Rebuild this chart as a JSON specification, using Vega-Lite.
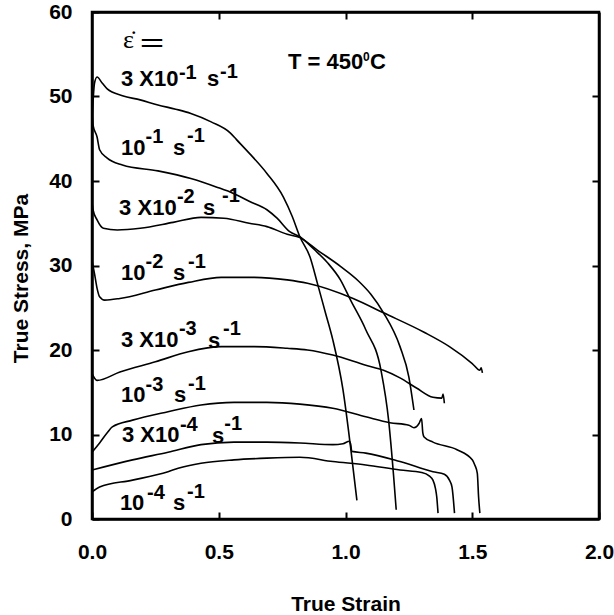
{
  "$schema": "https://vega.github.io/schema/vega-lite/v6.json",
  "width": 507,
  "height": 507,
  "autosize": {"type": "none"},
  "padding": {"left": 92, "top": 12, "right": 15, "bottom": 96},
  "background": "white",
  "config": {"view": {"stroke": "black", "strokeWidth": 2.5}, "font": "Liberation Sans"},
  "datasets": {
    "curves": [
      {"rate": "3x10^-1", "strain": 0, "stress": 47},
      {"rate": "3x10^-1", "strain": 0.01, "stress": 51.6},
      {"rate": "3x10^-1", "strain": 0.02, "stress": 52.3},
      {"rate": "3x10^-1", "strain": 0.04, "stress": 51.6},
      {"rate": "3x10^-1", "strain": 0.06, "stress": 50.9},
      {"rate": "3x10^-1", "strain": 0.12, "stress": 50.1},
      {"rate": "3x10^-1", "strain": 0.19, "stress": 49.6},
      {"rate": "3x10^-1", "strain": 0.26, "stress": 49.0},
      {"rate": "3x10^-1", "strain": 0.33, "stress": 48.5},
      {"rate": "3x10^-1", "strain": 0.39, "stress": 48.0},
      {"rate": "3x10^-1", "strain": 0.47, "stress": 47.0},
      {"rate": "3x10^-1", "strain": 0.545, "stress": 45.7},
      {"rate": "3x10^-1", "strain": 0.57, "stress": 44.9},
      {"rate": "3x10^-1", "strain": 0.62, "stress": 43.3},
      {"rate": "3x10^-1", "strain": 0.69, "stress": 40.9},
      {"rate": "3x10^-1", "strain": 0.755, "stress": 38.1},
      {"rate": "3x10^-1", "strain": 0.79, "stress": 35.8},
      {"rate": "3x10^-1", "strain": 0.82, "stress": 33.4},
      {"rate": "3x10^-1", "strain": 0.86, "stress": 31.0},
      {"rate": "3x10^-1", "strain": 0.89, "stress": 27.8},
      {"rate": "3x10^-1", "strain": 0.92, "stress": 24.5},
      {"rate": "3x10^-1", "strain": 0.95, "stress": 21.2},
      {"rate": "3x10^-1", "strain": 0.99, "stress": 15.3},
      {"rate": "3x10^-1", "strain": 1.02, "stress": 8.5},
      {"rate": "3x10^-1", "strain": 1.045, "stress": 2.2},

      {"rate": "1x10^-1", "strain": 0, "stress": 48.5},
      {"rate": "1x10^-1", "strain": 0.004, "stress": 46.6},
      {"rate": "1x10^-1", "strain": 0.02, "stress": 45.2},
      {"rate": "1x10^-1", "strain": 0.03, "stress": 43.7},
      {"rate": "1x10^-1", "strain": 0.06, "stress": 42.7},
      {"rate": "1x10^-1", "strain": 0.12, "stress": 41.9},
      {"rate": "1x10^-1", "strain": 0.26, "stress": 41.2},
      {"rate": "1x10^-1", "strain": 0.39, "stress": 40.3},
      {"rate": "1x10^-1", "strain": 0.49, "stress": 39.3},
      {"rate": "1x10^-1", "strain": 0.56, "stress": 38.5},
      {"rate": "1x10^-1", "strain": 0.62, "stress": 37.6},
      {"rate": "1x10^-1", "strain": 0.69, "stress": 36.6},
      {"rate": "1x10^-1", "strain": 0.73, "stress": 35.6},
      {"rate": "1x10^-1", "strain": 0.78, "stress": 34.0},
      {"rate": "1x10^-1", "strain": 0.82, "stress": 33.4},
      {"rate": "1x10^-1", "strain": 0.88, "stress": 31.8},
      {"rate": "1x10^-1", "strain": 0.93, "stress": 30.3},
      {"rate": "1x10^-1", "strain": 0.98, "stress": 28.3},
      {"rate": "1x10^-1", "strain": 1.02, "stress": 25.9},
      {"rate": "1x10^-1", "strain": 1.08, "stress": 22.4},
      {"rate": "1x10^-1", "strain": 1.14, "stress": 17.6},
      {"rate": "1x10^-1", "strain": 1.17, "stress": 11.7},
      {"rate": "1x10^-1", "strain": 1.19, "stress": 5.0},
      {"rate": "1x10^-1", "strain": 1.2, "stress": 1.1},

      {"rate": "3x10^-2", "strain": 0, "stress": 37.5},
      {"rate": "3x10^-2", "strain": 0.004, "stress": 36.6},
      {"rate": "3x10^-2", "strain": 0.02, "stress": 35.4},
      {"rate": "3x10^-2", "strain": 0.045, "stress": 34.4},
      {"rate": "3x10^-2", "strain": 0.1, "stress": 34.2},
      {"rate": "3x10^-2", "strain": 0.19, "stress": 34.4},
      {"rate": "3x10^-2", "strain": 0.32, "stress": 35.1},
      {"rate": "3x10^-2", "strain": 0.43, "stress": 35.7},
      {"rate": "3x10^-2", "strain": 0.52, "stress": 35.6},
      {"rate": "3x10^-2", "strain": 0.62, "stress": 35.0},
      {"rate": "3x10^-2", "strain": 0.69, "stress": 34.6},
      {"rate": "3x10^-2", "strain": 0.77, "stress": 33.7},
      {"rate": "3x10^-2", "strain": 0.82, "stress": 33.3},
      {"rate": "3x10^-2", "strain": 0.89, "stress": 31.8},
      {"rate": "3x10^-2", "strain": 0.98, "stress": 29.9},
      {"rate": "3x10^-2", "strain": 1.05, "stress": 28.2},
      {"rate": "3x10^-2", "strain": 1.1, "stress": 26.6},
      {"rate": "3x10^-2", "strain": 1.15, "stress": 24.4},
      {"rate": "3x10^-2", "strain": 1.215, "stress": 20.4},
      {"rate": "3x10^-2", "strain": 1.25, "stress": 16.8},
      {"rate": "3x10^-2", "strain": 1.27, "stress": 12.9},

      {"rate": "1x10^-2", "strain": 0, "stress": 30.5},
      {"rate": "1x10^-2", "strain": 0.01, "stress": 29.0},
      {"rate": "1x10^-2", "strain": 0.02, "stress": 27.3},
      {"rate": "1x10^-2", "strain": 0.03, "stress": 26.3},
      {"rate": "1x10^-2", "strain": 0.05, "stress": 25.9},
      {"rate": "1x10^-2", "strain": 0.11, "stress": 26.1},
      {"rate": "1x10^-2", "strain": 0.25, "stress": 27.1},
      {"rate": "1x10^-2", "strain": 0.38, "stress": 28.0},
      {"rate": "1x10^-2", "strain": 0.51, "stress": 28.6},
      {"rate": "1x10^-2", "strain": 0.64, "stress": 28.6},
      {"rate": "1x10^-2", "strain": 0.77, "stress": 28.3},
      {"rate": "1x10^-2", "strain": 0.85, "stress": 27.9},
      {"rate": "1x10^-2", "strain": 1.03, "stress": 26.1},
      {"rate": "1x10^-2", "strain": 1.15, "stress": 24.4},
      {"rate": "1x10^-2", "strain": 1.31, "stress": 22.1},
      {"rate": "1x10^-2", "strain": 1.41, "stress": 20.4},
      {"rate": "1x10^-2", "strain": 1.5, "stress": 18.4},
      {"rate": "1x10^-2", "strain": 1.53, "stress": 17.6},
      {"rate": "1x10^-2", "strain": 1.535, "stress": 17.9},
      {"rate": "1x10^-2", "strain": 1.54, "stress": 17.3},

      {"rate": "3x10^-3", "strain": 0, "stress": 17.2},
      {"rate": "3x10^-3", "strain": 0.02, "stress": 16.4},
      {"rate": "3x10^-3", "strain": 0.11, "stress": 17.4},
      {"rate": "3x10^-3", "strain": 0.25, "stress": 18.6},
      {"rate": "3x10^-3", "strain": 0.38, "stress": 19.8},
      {"rate": "3x10^-3", "strain": 0.51, "stress": 20.4},
      {"rate": "3x10^-3", "strain": 0.64, "stress": 20.4},
      {"rate": "3x10^-3", "strain": 0.77, "stress": 20.2},
      {"rate": "3x10^-3", "strain": 0.85, "stress": 20.0},
      {"rate": "3x10^-3", "strain": 0.95, "stress": 19.4},
      {"rate": "3x10^-3", "strain": 1.08, "stress": 18.2},
      {"rate": "3x10^-3", "strain": 1.15, "stress": 17.6},
      {"rate": "3x10^-3", "strain": 1.215, "stress": 16.7},
      {"rate": "3x10^-3", "strain": 1.28, "stress": 15.5},
      {"rate": "3x10^-3", "strain": 1.345, "stress": 14.4},
      {"rate": "3x10^-3", "strain": 1.38, "stress": 14.3},
      {"rate": "3x10^-3", "strain": 1.385, "stress": 14.8},
      {"rate": "3x10^-3", "strain": 1.39, "stress": 13.7},

      {"rate": "1x10^-3", "strain": 0, "stress": 7.9},
      {"rate": "1x10^-3", "strain": 0.03, "stress": 9.0},
      {"rate": "1x10^-3", "strain": 0.06, "stress": 10.2},
      {"rate": "1x10^-3", "strain": 0.08, "stress": 10.9},
      {"rate": "1x10^-3", "strain": 0.16, "stress": 11.7},
      {"rate": "1x10^-3", "strain": 0.3, "stress": 12.7},
      {"rate": "1x10^-3", "strain": 0.43, "stress": 13.5},
      {"rate": "1x10^-3", "strain": 0.56, "stress": 13.8},
      {"rate": "1x10^-3", "strain": 0.69, "stress": 13.8},
      {"rate": "1x10^-3", "strain": 0.82, "stress": 13.6},
      {"rate": "1x10^-3", "strain": 0.95, "stress": 13.1},
      {"rate": "1x10^-3", "strain": 1.08, "stress": 12.1},
      {"rate": "1x10^-3", "strain": 1.175, "stress": 11.4},
      {"rate": "1x10^-3", "strain": 1.25, "stress": 11.1},
      {"rate": "1x10^-3", "strain": 1.27, "stress": 10.8},
      {"rate": "1x10^-3", "strain": 1.29, "stress": 11.3},
      {"rate": "1x10^-3", "strain": 1.3, "stress": 11.9},
      {"rate": "1x10^-3", "strain": 1.305, "stress": 10.2},
      {"rate": "1x10^-3", "strain": 1.31, "stress": 9.7},
      {"rate": "1x10^-3", "strain": 1.345, "stress": 9.1},
      {"rate": "1x10^-3", "strain": 1.44, "stress": 8.2},
      {"rate": "1x10^-3", "strain": 1.5, "stress": 7.0},
      {"rate": "1x10^-3", "strain": 1.51, "stress": 6.4},
      {"rate": "1x10^-3", "strain": 1.52, "stress": 5.4},
      {"rate": "1x10^-3", "strain": 1.525, "stress": 2.6},
      {"rate": "1x10^-3", "strain": 1.53, "stress": 0.7},

      {"rate": "3x10^-4", "strain": 0, "stress": 5.8},
      {"rate": "3x10^-4", "strain": 0.16, "stress": 7.0},
      {"rate": "3x10^-4", "strain": 0.3, "stress": 7.9},
      {"rate": "3x10^-4", "strain": 0.43, "stress": 8.8},
      {"rate": "3x10^-4", "strain": 0.56, "stress": 9.1},
      {"rate": "3x10^-4", "strain": 0.69, "stress": 9.1},
      {"rate": "3x10^-4", "strain": 0.82, "stress": 9.0},
      {"rate": "3x10^-4", "strain": 0.95, "stress": 8.8},
      {"rate": "3x10^-4", "strain": 0.99, "stress": 8.9},
      {"rate": "3x10^-4", "strain": 1.015, "stress": 9.2},
      {"rate": "3x10^-4", "strain": 1.02, "stress": 8.9},
      {"rate": "3x10^-4", "strain": 1.025, "stress": 8.0},
      {"rate": "3x10^-4", "strain": 1.08, "stress": 7.8},
      {"rate": "3x10^-4", "strain": 1.215, "stress": 6.8},
      {"rate": "3x10^-4", "strain": 1.345, "stress": 5.6},
      {"rate": "3x10^-4", "strain": 1.39, "stress": 5.3},
      {"rate": "3x10^-4", "strain": 1.41, "stress": 4.6},
      {"rate": "3x10^-4", "strain": 1.42, "stress": 3.8},
      {"rate": "3x10^-4", "strain": 1.43, "stress": 0.7},

      {"rate": "1x10^-4", "strain": 0, "stress": 3.2},
      {"rate": "1x10^-4", "strain": 0.03, "stress": 3.8},
      {"rate": "1x10^-4", "strain": 0.16, "stress": 4.6},
      {"rate": "1x10^-4", "strain": 0.3, "stress": 5.6},
      {"rate": "1x10^-4", "strain": 0.34, "stress": 6.0},
      {"rate": "1x10^-4", "strain": 0.43, "stress": 6.6},
      {"rate": "1x10^-4", "strain": 0.56, "stress": 7.0},
      {"rate": "1x10^-4", "strain": 0.69, "stress": 7.2},
      {"rate": "1x10^-4", "strain": 0.82, "stress": 7.3},
      {"rate": "1x10^-4", "strain": 0.95, "stress": 6.8},
      {"rate": "1x10^-4", "strain": 1.08, "stress": 6.4},
      {"rate": "1x10^-4", "strain": 1.215, "stress": 5.8},
      {"rate": "1x10^-4", "strain": 1.3, "stress": 5.5},
      {"rate": "1x10^-4", "strain": 1.33, "stress": 5.1},
      {"rate": "1x10^-4", "strain": 1.345, "stress": 4.6},
      {"rate": "1x10^-4", "strain": 1.355, "stress": 3.6},
      {"rate": "1x10^-4", "strain": 1.36, "stress": 2.6},
      {"rate": "1x10^-4", "strain": 1.365, "stress": 0.7}
    ],
    "labels": [
      {"x": 0.114, "y": 51.24, "t": "3 X10"},
      {"x": 0.454, "y": 51.24, "t": "s"},
      {"x": 0.114, "y": 43.08, "t": "10"},
      {"x": 0.32, "y": 43.08, "t": "s"},
      {"x": 0.107, "y": 35.98, "t": "3 X10"},
      {"x": 0.438, "y": 35.98, "t": "s"},
      {"x": 0.114, "y": 28.28, "t": "10"},
      {"x": 0.32, "y": 28.28, "t": "s"},
      {"x": 0.114, "y": 20.36, "t": "3 X10"},
      {"x": 0.458, "y": 20.24, "t": "s"},
      {"x": 0.114, "y": 13.85, "t": "10"},
      {"x": 0.323, "y": 13.85, "t": "s"},
      {"x": 0.118, "y": 9.11, "t": "3 X10"},
      {"x": 0.473, "y": 8.99, "t": "s"},
      {"x": 0.11, "y": 1.07, "t": "10"},
      {"x": 0.32, "y": 1.07, "t": "s"},
      {"x": 0.773, "y": 53.25, "t": "T = 450"},
      {"x": 1.097, "y": 53.25, "t": "C"}
    ],
    "sups": [
      {"x": 0.343, "y": 52.07, "t": "-1"},
      {"x": 0.505, "y": 52.19, "t": "-1"},
      {"x": 0.211, "y": 44.5, "t": "-1"},
      {"x": 0.375, "y": 44.62, "t": "-1"},
      {"x": 0.335, "y": 37.4, "t": "-2"},
      {"x": 0.513, "y": 37.51, "t": "-1"},
      {"x": 0.211, "y": 29.7, "t": "-2"},
      {"x": 0.379, "y": 29.7, "t": "-1"},
      {"x": 0.343, "y": 21.78, "t": "-3"},
      {"x": 0.517, "y": 21.78, "t": "-1"},
      {"x": 0.211, "y": 15.15, "t": "-3"},
      {"x": 0.379, "y": 15.27, "t": "-1"},
      {"x": 0.347, "y": 10.41, "t": "-4"},
      {"x": 0.522, "y": 10.53, "t": "-1"},
      {"x": 0.217, "y": 2.37, "t": "-4"},
      {"x": 0.375, "y": 2.49, "t": "-1"}
    ],
    "smallsup": [
      {"x": 1.069, "y": 54.2, "t": "0"}
    ],
    "symbols": [
      {"x": 0.122, "y": 55.74, "t": "ε̇"}
    ],
    "equals": [
      {"x": 0.181, "y": 55.08, "t": "＝"}
    ]
  },
  "layer": [
    {
      "data": {"name": "curves"},
      "mark": {"type": "line", "color": "black", "strokeWidth": 1.6, "interpolate": "monotone", "clip": true},
      "encoding": {
        "x": {
          "field": "strain", "type": "quantitative",
          "scale": {"domain": [0, 2], "nice": false, "zero": false},
          "axis": {
            "orient": "bottom", "values": [0, 0.5, 1, 1.5, 2], "format": ".1f",
            "grid": false, "tickSize": -7, "tickWidth": 2, "tickColor": "black",
            "domain": true, "domainColor": "black", "domainWidth": 2.5,
            "labelFont": "Liberation Sans", "labelFontWeight": "bold", "labelFontSize": 21,
            "labelColor": "black", "labelBaseline": "alphabetic", "labelPadding": 46,
            "labelFlush": false, "labelOverlap": false,
            "title": "True Strain", "titleFont": "Liberation Sans", "titleFontWeight": "bold",
            "titleFontSize": 21, "titleColor": "black", "titleX": 253.5, "titleY": 91,
            "titleBaseline": "alphabetic", "titleAlign": "center"
          }
        },
        "y": {
          "field": "stress", "type": "quantitative",
          "scale": {"domain": [0, 60], "nice": false, "zero": false},
          "axis": {
            "orient": "left", "values": [0, 10, 20, 30, 40, 50, 60],
            "grid": false, "tickSize": -7, "tickWidth": 2, "tickColor": "black",
            "domain": true, "domainColor": "black", "domainWidth": 2.5,
            "labelFont": "Liberation Sans", "labelFontWeight": "bold", "labelFontSize": 21,
            "labelColor": "black", "labelPadding": 27, "labelFlush": false, "labelOverlap": false,
            "title": "True Stress, MPa", "titleFont": "Liberation Sans", "titleFontWeight": "bold",
            "titleFontSize": 21, "titleColor": "black", "titleX": -65, "titleY": 266,
            "titleBaseline": "alphabetic", "titleAlign": "center", "titleAngle": 270
          }
        },
        "detail": {"field": "rate", "type": "nominal"}
      }
    },
    {
      "data": {"name": "labels"},
      "mark": {"type": "text", "align": "left", "baseline": "alphabetic", "font": "Liberation Sans", "fontWeight": "bold", "fontSize": 22, "color": "black"},
      "encoding": {
        "x": {"field": "x", "type": "quantitative", "scale": {"domain": [0, 2], "nice": false, "zero": false}, "axis": null},
        "y": {"field": "y", "type": "quantitative", "scale": {"domain": [0, 60], "nice": false, "zero": false}, "axis": null},
        "text": {"field": "t"}
      }
    },
    {
      "data": {"name": "sups"},
      "mark": {"type": "text", "align": "left", "baseline": "alphabetic", "font": "Liberation Sans", "fontWeight": "bold", "fontSize": 20, "color": "black"},
      "encoding": {
        "x": {"field": "x", "type": "quantitative", "scale": {"domain": [0, 2], "nice": false, "zero": false}, "axis": null},
        "y": {"field": "y", "type": "quantitative", "scale": {"domain": [0, 60], "nice": false, "zero": false}, "axis": null},
        "text": {"field": "t"}
      }
    },
    {
      "data": {"name": "symbols"},
      "mark": {"type": "text", "align": "left", "baseline": "alphabetic", "font": "Liberation Serif", "fontSize": 26, "color": "black"},
      "encoding": {
        "x": {"field": "x", "type": "quantitative", "scale": {"domain": [0, 2], "nice": false, "zero": false}, "axis": null},
        "y": {"field": "y", "type": "quantitative", "scale": {"domain": [0, 60], "nice": false, "zero": false}, "axis": null},
        "text": {"field": "t"}
      }
    },
    {
      "data": {"name": "equals"},
      "mark": {"type": "text", "align": "left", "baseline": "alphabetic", "font": "Noto Sans CJK JP", "fontSize": 28, "color": "black"},
      "encoding": {
        "x": {"field": "x", "type": "quantitative", "scale": {"domain": [0, 2], "nice": false, "zero": false}, "axis": null},
        "y": {"field": "y", "type": "quantitative", "scale": {"domain": [0, 60], "nice": false, "zero": false}, "axis": null},
        "text": {"field": "t"}
      }
    },
    {
      "data": {"name": "smallsup"},
      "mark": {"type": "text", "align": "left", "baseline": "alphabetic", "font": "Liberation Sans", "fontWeight": "bold", "fontSize": 12, "color": "black"},
      "encoding": {
        "x": {
          "field": "x", "type": "quantitative", "scale": {"domain": [0, 2], "nice": false, "zero": false},
          "axis": {"orient": "top", "values": [0.5, 1, 1.5], "labels": false, "title": null, "grid": false,
                   "tickSize": -7, "tickWidth": 2, "tickColor": "black", "domain": true, "domainColor": "black", "domainWidth": 2.5}
        },
        "y": {
          "field": "y", "type": "quantitative", "scale": {"domain": [0, 60], "nice": false, "zero": false},
          "axis": {"orient": "right", "values": [10, 20, 30, 40, 50], "labels": false, "title": null, "grid": false,
                   "tickSize": -7, "tickWidth": 2, "tickColor": "black", "domain": true, "domainColor": "black", "domainWidth": 2.5}
        },
        "text": {"field": "t"}
      }
    }
  ],
  "resolve": {"axis": {"x": "independent", "y": "independent"}}
}
